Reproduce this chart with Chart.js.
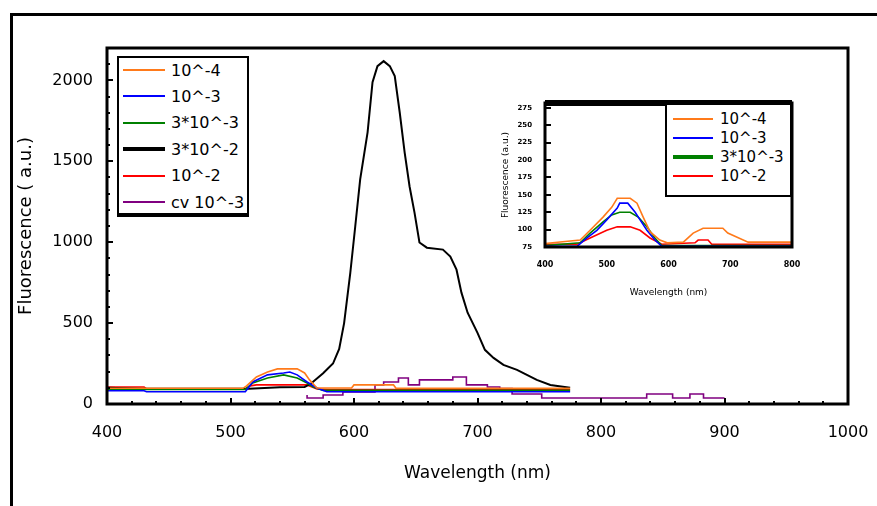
<!DOCTYPE html>
<html>
<head>
<meta charset="utf-8">
<script src="https://cdn.jsdelivr.net/npm/chart.js@4.4.0/dist/chart.umd.min.js"></script>
<style>
  body { margin: 0; background: #fff; font-family: "DejaVu Sans", sans-serif; }
  #wrap { position: relative; width: 877px; height: 506px; overflow: hidden; background: #fff; }
  #frame { position: absolute; left: 10px; top: 13px; width: 900px; height: 600px;
           border-left: 3px solid #000; border-top: 3px solid #000; }
  #main { position: absolute; left: 0; top: 0; }
  #inset { position: absolute; left: 497px; top: 96px; }
  .legend { position: absolute; background: #fff; border: 2px solid #000; box-sizing: border-box; color: #000; }
  .legend .row { position: absolute; display: flex; align-items: center; white-space: nowrap; }
  .legend .swatch { display: inline-block; }
  #legMain { left: 117px; top: 56px; width: 132px; height: 161px; border-bottom-width: 4px; font-size: 16px; }
  #legInset { left: 665px; top: 103px; width: 127px; height: 94px; font-size: 15px; }
</style>
</head>
<body>
<div id="wrap">
  <div id="frame"></div>
  <canvas id="main" width="877" height="506"></canvas>
  <canvas id="inset" width="305" height="210"></canvas>
  <div id="legMain" class="legend"></div>
  <div id="legInset" class="legend"></div>
</div>
<script>
// series names + colours
const seriesLabels = ['10^-4', '10^-3', '3*10^-3', '3*10^-2', '10^-2', 'cv 10^-3'];
const seriesColors = ['#ff7a1a', '#0000ff', '#008000', '#000000', '#ff0000', '#800080'];

// main plot: wavelength (nm) -> fluorescence (a.u.)
const e4X = [400, 510, 513, 517, 521, 530, 538, 554, 560, 564, 570, 598, 600, 632, 634, 775];
const e4Y = [97, 97, 112, 140, 167, 198, 217, 217, 192, 149, 99, 99, 118, 118, 97, 97];

const e3X = [400, 430, 432, 512, 518, 530, 543, 548, 554, 562, 570, 578, 775];
const e3Y = [82, 82, 76, 76, 136, 180, 192, 198, 180, 136, 99, 76, 76];

const e3x3X = [400, 512, 518, 530, 543, 554, 562, 567, 575, 775];
const e3x3Y = [90, 90, 130, 161, 180, 161, 130, 105, 84, 84];

const e2x3X = [400, 430, 515, 540, 560, 565, 575, 583, 588, 592, 597, 601, 605, 611, 615, 619, 624, 629, 633,
               637, 641, 645, 649, 653, 659, 672, 678, 683, 687, 692, 700, 706, 713, 721, 732, 740, 748, 759, 775];
const e2x3Y = [100, 95, 95, 103, 105, 125, 190, 250, 340, 500, 811, 1097, 1388, 1679, 1989, 2088, 2119, 2088, 2026,
               1803, 1555, 1344, 1183, 998, 966, 954, 911, 830, 688, 564, 440, 335, 285, 242, 211, 180, 149, 118, 100];

const e2X = [400, 430, 432, 512, 516, 521, 562, 570, 580, 775];
const e2Y = [105, 105, 93, 93, 112, 118, 118, 93, 90, 90];

// cv 10^-3 is stepped
const cvX = [562, 575, 591, 617, 624, 636, 644, 653, 680, 691, 708, 718, 728, 752, 837, 858, 872, 883, 892, 900];
const cvY = [56, 37, 56, 74, 118, 136, 161, 118, 149, 167, 118, 105, 95, 62, 37, 62, 37, 62, 37, 37];

const xTicks = [400, 500, 600, 700, 800, 900, 1000];
const yTicks = [0, 500, 1000, 1500, 2000];

// inset plot
const insetLabels = ['10^-4', '10^-3', '3*10^-3', '10^-2'];
const insetColors = ['#ff7a1a', '#0000ff', '#008000', '#ff0000'];

const inE4X = [400, 457, 473, 494, 508, 517, 538, 549, 559, 570, 586, 598, 624, 640, 656, 688, 696, 729, 800];
const inE4Y = [80, 85, 99, 118, 132, 145, 145, 138, 118, 97, 85, 81, 82, 95, 102, 102, 95, 82, 82];

const inE3X = [400, 452, 468, 484, 500, 517, 521, 534, 546, 554, 565, 578, 589, 800];
const inE3Y = [76, 76, 88, 99, 114, 131, 138, 138, 125, 114, 99, 85, 76, 76];

const inE3x3X = [400, 457, 473, 494, 508, 521, 538, 551, 565, 578, 589, 800];
const inE3x3Y = [77, 81, 95, 111, 121, 125, 125, 118, 104, 88, 77, 77];

const inE2X = [400, 452, 473, 500, 517, 538, 554, 570, 589, 643, 648, 664, 670, 800];
const inE2Y = [79, 79, 88, 99, 104, 104, 99, 88, 79, 81, 85, 85, 79, 79];

const inXTicks = [400, 500, 600, 700, 800];
const inYTicks = [75, 100, 125, 150, 175, 200, 225, 250, 275];

const FONT = '"DejaVu Sans", sans-serif';

function pts(xs, ys) {
    return xs.map((x, i) => ({ x: x, y: ys[i] }));
}

// keep the plot box where we put it, labels may hang over
function noPad(s) {
    s.paddingLeft = 0; s.paddingRight = 0; s.paddingTop = 0; s.paddingBottom = 0;
}

// box round the plot + small inward ticks
const framePlugin = {
    id: 'frame',
    afterDraw(chart, args, o) {
        const { ctx, chartArea: a, scales } = chart;
        ctx.save();
        ctx.strokeStyle = '#000';
        ctx.lineWidth = o.width;
        ctx.strokeRect(a.left, a.top, a.right - a.left, a.bottom - a.top);
        if (o.topWidth) {
            ctx.lineWidth = o.topWidth;
            ctx.beginPath();
            ctx.moveTo(a.left, a.top); ctx.lineTo(a.right, a.top);
            ctx.stroke();
        }
        ctx.lineWidth = 2;
        if (o.xStep) {
            for (let v = scales.x.min; v <= scales.x.max; v += o.xStep) {
                const px = Math.round(scales.x.getPixelForValue(v));
                const len = v % o.xMajor === 0 ? 6 : 3;
                ctx.beginPath(); ctx.moveTo(px, a.bottom); ctx.lineTo(px, a.bottom - len); ctx.stroke();
            }
        }
        if (o.yStep) {
            for (let v = scales.y.min; v <= scales.y.max; v += o.yStep) {
                const py = Math.round(scales.y.getPixelForValue(v));
                const len = v % o.yMajor === 0 ? 6 : 3;
                ctx.beginPath(); ctx.moveTo(a.left, py); ctx.lineTo(a.left + len, py); ctx.stroke();
            }
        }
        ctx.restore();
    }
};

function buildLegend(el, labels, colors, widths, o) {
    labels.forEach((lab, i) => {
        const row = document.createElement('div');
        row.className = 'row';
        row.style.left = o.left + 'px';
        row.style.top = (o.top + i * o.step) + 'px';
        row.style.height = '20px';
        const sw = document.createElement('span');
        sw.className = 'swatch';
        sw.style.width = o.lineLen + 'px';
        sw.style.height = widths[i] + 'px';
        sw.style.background = colors[i];
        sw.style.marginRight = o.gap + 'px';
        const tx = document.createElement('span');
        tx.textContent = lab;
        row.appendChild(sw);
        row.appendChild(tx);
        el.appendChild(row);
    });
}

const plain = v => String(v);

// main chart
const mainSets = [
    [e4X, e4Y], [e3X, e3Y], [e3x3X, e3x3Y], [e2x3X, e2x3Y], [e2X, e2Y], [cvX, cvY]
].map((s, i) => ({
    label: seriesLabels[i],
    data: pts(s[0], s[1]),
    borderColor: seriesColors[i],
    borderWidth: i === 3 ? 2 : 1.6,
    stepped: i === 5 ? 'after' : false,
    pointRadius: 0,
    tension: 0
}));

new Chart(document.getElementById('main'), {
    type: 'line',
    data: { datasets: mainSets },
    options: {
        responsive: false,
        animation: false,
        layout: { padding: { left: 12, top: 48, right: 29, bottom: 18 } },
        plugins: {
            legend: { display: false },
            tooltip: { enabled: false },
            frame: { width: 3, xStep: 20, xMajor: 100, yStep: 100, yMajor: 500 }
        },
        scales: {
            x: {
                type: 'linear', min: 400, max: 1000,
                grid: { display: false, drawTicks: false },
                border: { display: false },
                ticks: { color: '#000', font: { family: FONT, size: 16 }, padding: 19, autoSkip: false,
                         maxRotation: 0, callback: plain },
                afterBuildTicks: s => { s.ticks = xTicks.map(v => ({ value: v })); },
                title: { display: true, text: 'Wavelength (nm)', color: '#000',
                         font: { family: FONT, size: 17 }, padding: { top: 0, bottom: 4 } },
                afterFit: s => { s.height = 84; noPad(s); }
            },
            y: {
                type: 'linear', min: 0, max: 2200,
                grid: { display: false, drawTicks: false },
                border: { display: false },
                ticks: { color: '#000', font: { family: FONT, size: 16 }, padding: 14, callback: plain },
                afterBuildTicks: s => { s.ticks = yTicks.map(v => ({ value: v })); },
                title: { display: true, text: 'Fluorescence ( a.u.)', color: '#000',
                         font: { family: FONT, size: 18 }, padding: { top: 4, bottom: 0 } },
                afterFit: s => { s.width = 95; noPad(s); }
            }
        }
    },
    plugins: [framePlugin]
});

// inset chart
const insetSets = [
    [inE4X, inE4Y], [inE3X, inE3Y], [inE3x3X, inE3x3Y], [inE2X, inE2Y]
].map((s, i) => ({
    label: insetLabels[i],
    data: pts(s[0], s[1]),
    borderColor: insetColors[i],
    borderWidth: 1.6,
    pointRadius: 0,
    tension: 0
}));

new Chart(document.getElementById('inset'), {
    type: 'line',
    data: { datasets: insetSets },
    options: {
        responsive: false,
        animation: false,
        layout: { padding: { left: 3, top: 7, right: 10, bottom: 8 } },
        plugins: {
            legend: { display: false },
            tooltip: { enabled: false },
            frame: { width: 3, topWidth: 6, yStep: 25, yMajor: 25 }
        },
        scales: {
            x: {
                type: 'linear', min: 400, max: 800,
                grid: { display: false, drawTicks: false },
                border: { display: false },
                ticks: { color: '#000', font: { family: FONT, size: 8, weight: 'bold' }, padding: 13, autoSkip: false,
                         maxRotation: 0, callback: plain },
                afterBuildTicks: s => { s.ticks = inXTicks.map(v => ({ value: v })); },
                title: { display: true, text: 'Wavelength (nm)', color: '#000',
                         font: { family: FONT, size: 9 }, padding: 0 },
                afterFit: s => { s.height = 51; noPad(s); }
            },
            y: {
                type: 'linear', min: 75, max: 282,
                grid: { display: false, drawTicks: false },
                border: { display: false },
                ticks: { color: '#000', font: { family: FONT, size: 7, weight: 'bold' }, padding: 13, callback: plain },
                afterBuildTicks: s => { s.ticks = inYTicks.map(v => ({ value: v })); },
                title: { display: true, text: 'Fluorescence (a.u.)', color: '#000',
                         font: { family: FONT, size: 9 }, padding: 0 },
                afterFit: s => { s.width = 45; noPad(s); }
            }
        }
    },
    plugins: [framePlugin]
});

buildLegend(document.getElementById('legMain'), seriesLabels, seriesColors, [2, 2, 2, 4, 2, 2],
    { left: 4, top: 2, step: 26.4, lineLen: 42, gap: 6 });
buildLegend(document.getElementById('legInset'), insetLabels, insetColors, [2, 2, 4, 2],
    { left: 6, top: 4, step: 19, lineLen: 40, gap: 7 });
</script>
</body>
</html>
